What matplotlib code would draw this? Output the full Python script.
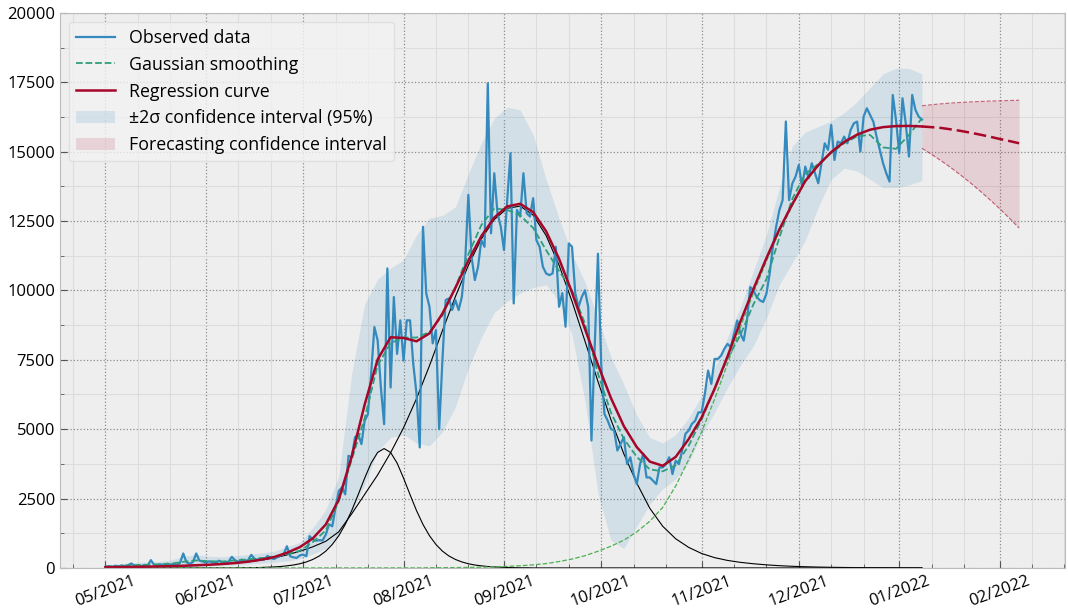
import matplotlib
matplotlib.use('Agg')
import matplotlib.pyplot as plt
import matplotlib.dates as mdates
from matplotlib.ticker import MultipleLocator
import numpy as np
import pandas as pd

plt.rcParams['font.family'] = ['Open Sans', 'DejaVu Sans']

# daily observed values, 2021-05-01 .. 2022-01-08
observed = [
    40, 60, 30, 80, 50, 90, 60, 100, 160, 70,
    90, 60, 110, 80, 280, 110, 90, 130, 100, 150,
    120, 140, 110, 180, 520, 200, 150, 210, 520, 260,
    230, 190, 240, 200, 170, 260, 210, 180, 230, 400,
    270, 220, 300, 250, 280, 470, 330, 290, 350, 300,
    430, 360, 320, 380, 450, 500, 780, 420, 380, 360,
    450, 480, 420, 1145, 1025, 980, 1000, 990, 1200, 1570,
    1500, 2170, 2770, 2900, 2650, 4040, 3980, 4700, 4820, 4460,
    5300, 5540, 7000, 8680, 8200, 6500, 5180, 10790, 6500, 9760,
    7710, 8920, 7470, 8920, 8920, 7350, 6270, 4340, 12290, 9890,
    9410, 8090, 8570, 5000, 7490, 9650, 9710, 9290, 9650, 9290,
    9770, 10970, 13440, 11210, 10370, 10850, 11810, 11570, 17460, 12055,
    14220, 12780, 12300, 11450, 13260, 14940, 9530, 12900, 12660, 14220,
    12780, 12660, 13320, 11810, 11570, 10850, 10610, 10550, 10610, 11570,
    9410, 9900, 8690, 11690, 11570, 9900, 9400, 9760, 10000, 9400,
    4590, 7950, 11320, 7350, 5550, 5310, 5010, 4950, 4230, 4470,
    4710, 3740, 3985, 3380, 3020, 3740, 4110, 3260, 3260, 3140,
    3020, 3620, 3620, 3740, 3985, 3380, 3860, 3740, 4230, 4830,
    4950, 5190, 5300, 5600, 5610, 6265, 7110, 6630, 7530, 7530,
    7650, 7890, 8070, 7950, 8430, 8915, 8430, 8190, 8915, 10120,
    10000, 9760, 9640, 9580, 9880, 10600, 11570, 12290, 12890, 13250,
    16085, 13250, 13850, 14100, 14520, 13740, 14460, 14040, 14580, 14220,
    13860, 14580, 15300, 15060, 15960, 14700, 15360, 15300, 15540, 15300,
    15780, 16020, 16080, 15000, 16260, 16560, 16320, 16080, 15540, 15060,
    14580, 14220, 13920, 17040, 16140, 14940, 16920, 16020, 14820, 17040,
    16500, 16260, 16150,
]

# first (July) wave component, every 2 days from 2021-05-01
comp_early = [0] * 21 + [
    5, 5, 10, 15, 25, 35, 50, 75, 105, 150,
    215, 305, 430, 605, 845, 1160, 1565, 2065, 2640, 3235,
    3780, 4160, 4300, 4160, 3780, 3235, 2640, 2065, 1565, 1160,
    845, 605, 430, 305, 215, 150, 105, 75, 50, 35,
    25, 15, 10, 5, 5,
] + [0] * 61

# other smooth curves, every 4 days from 2021-05-01
comp_main = [
    25, 30, 36, 44, 53, 64, 78, 95,
    115, 140, 175, 220, 280, 355, 470, 600,
    760, 960, 1300, 1950, 2650, 3350, 4150, 5050,
    6100, 7285, 8550, 9775, 10900, 11850, 12550, 12955,
    13036, 12710, 11975, 10907, 9602, 8170, 6720, 5344,
    4107, 3051, 2150, 1500, 1050, 740, 520, 370,
    270, 200, 150, 110, 80, 58, 42, 30,
    22, 16, 11, 8, 6, 4, 3, 2,
]
comp_late = [
    0, 0, 0, 0, 0, 0, 0, 0,
    0, 0, 0, 0, 0, 0, 0, 0,
    0, 0, 0, 0, 0, 0, 0, 0,
    0, 5, 8, 12, 18, 26, 38, 55,
    78, 110, 155, 230, 320, 440, 600, 780,
    1000, 1300, 1680, 2180, 2950, 3900, 4900, 6080,
    7350, 8680, 9900, 11050, 12120, 13050, 13900, 14480,
    14960, 15330, 15600, 15780, 15875, 15915, 15922, 15903,
]
smoothing = [
    50, 70, 95, 110, 130, 150, 220, 270,
    240, 230, 270, 310, 350, 400, 500, 620,
    930, 1350, 2400, 3900, 5400, 7300, 8100, 8300,
    8300, 8500, 9100, 10100, 11300, 12350, 12950, 12900,
    12700, 12250, 11450, 10700, 10000, 8800, 7000, 5600,
    4650, 4000, 3550, 3480, 3700, 4400, 5350, 6450,
    7550, 8400, 9500, 10400, 11900, 13300, 14200, 14550,
    14950, 15300, 15550, 15600, 15150, 15100, 15600, 16200,
]
band_low = [
    0, 10, 20, 30, 40, 50, 40, 60,
    80, 90, 110, 140, 170, 200, 250, 330,
    500, 700, 1200, 2000, 3000, 4200, 4700, 4800,
    4500, 4400, 4900, 5800, 7200, 8300, 9200, 9600,
    9900, 10100, 10200, 9600, 8400, 6000, 2700, 1000,
    700, 1500, 2300, 2850, 3200, 3800, 4800, 5600,
    6500, 7300, 8000, 9000, 10200, 11000, 11800, 13000,
    14000, 14400, 14300, 14000, 13700, 13700, 13800, 13950,
]
band_high = [
    110, 140, 190, 210, 230, 280, 420, 480,
    420, 400, 440, 480, 540, 600, 760, 920,
    1450, 2100, 3300, 7000, 9500, 10400, 10800, 11100,
    12000, 12600, 12700, 13000, 14200, 15300, 16200, 16600,
    16500, 15600, 14000, 12600, 11300, 10300, 9000, 7600,
    6600, 5500, 4700, 4500, 4800, 5400, 6200, 7200,
    8300, 9400, 10700, 12000, 13700, 15200, 15700, 15900,
    16100, 16400, 16800, 17300, 17800, 18000, 18000, 17800,
]

# forecast, every 3 days from 2022-01-08
fc_mid = [15905, 15880, 15850, 15800, 15745, 15680, 15610, 15535, 15455, 15380, 15300]
fc_low = [15120, 14900, 14665, 14415, 14150, 13870, 13575, 13265, 12940, 12600, 12245]
fc_high = [16650, 16690, 16720, 16750, 16770, 16790, 16805, 16820, 16830, 16840, 16850]

obs_dates = pd.date_range('2021-05-01', periods=len(observed), freq='D')
fine_dates = pd.date_range('2021-05-01', periods=len(comp_early), freq='2D')
grid_dates = pd.date_range('2021-05-01', periods=len(comp_main), freq='4D')
fc_dates = pd.date_range('2022-01-08', periods=len(fc_mid), freq='3D')

# regression = sum of the three components (early one taken on the 4-day grid)
regression = np.array(comp_early[::2]) + np.array(comp_main) + np.array(comp_late)

blue = '#348ABD'
red = '#A60628'

fig, ax = plt.subplots(figsize=(10.68, 6.10), dpi=100)
fig.subplots_adjust(left=0.056, right=0.997, bottom=0.069, top=0.979)
ax.set_facecolor('#eeeeee')

band = ax.fill_between(grid_dates, band_low, band_high, color=blue, alpha=0.15, lw=0)
fc_band = ax.fill_between(fc_dates, fc_low, fc_high, color=red, alpha=0.13, lw=0)
ax.plot(fc_dates, fc_low, color=red, lw=0.8, ls='--', alpha=0.6)
ax.plot(fc_dates, fc_high, color=red, lw=0.8, ls='--', alpha=0.6)

ax.plot(fine_dates, comp_early, color='black', lw=0.8)
ax.plot(grid_dates, comp_main, color='black', lw=0.8)
ax.plot(grid_dates, comp_late, color='#4CAF50', lw=0.9, ls='--')

l_obs, = ax.plot(obs_dates, observed, color=blue, lw=1.6)
l_smooth, = ax.plot(grid_dates, smoothing, color='#2E9E7A', lw=1.3, ls='--')
l_reg, = ax.plot(grid_dates, regression, color=red, lw=1.8)
ax.plot(fc_dates, fc_mid, color=red, lw=1.8, ls=(0, (5, 2)))

ax.set_ylim(0, 20000)
ax.yaxis.set_major_locator(MultipleLocator(2500))
ax.yaxis.set_minor_locator(MultipleLocator(1250))
ax.xaxis.set_major_locator(mdates.MonthLocator())
ax.xaxis.set_minor_locator(mdates.DayLocator(bymonthday=[11, 21]))
ax.xaxis.set_major_formatter(mdates.DateFormatter('%m/%Y'))

ax.set_axisbelow(True)
ax.grid(which='major', color='#8c8c8c', ls=':', lw=0.9)
ax.grid(which='minor', color='#dcdcdc', ls='-', lw=0.8)
ax.tick_params(which='both', direction='in', labelsize=12, color='#555555')
ax.tick_params(which='major', length=5)
ax.tick_params(which='minor', length=3)
plt.setp(ax.get_xticklabels(), rotation=20)
for sp in ax.spines.values():
    sp.set_color('#bcbcbc')

ax.legend([l_obs, l_smooth, l_reg, band, fc_band],
          ['Observed data', 'Gaussian smoothing', 'Regression curve',
           '±2σ confidence interval (95%)', 'Forecasting confidence interval'],
          loc='upper left', fontsize=12.8, framealpha=0.8, facecolor='#f2f2f2',
          edgecolor='#dddddd', handlelength=2.2)

fig.savefig('out.png', dpi=100)
